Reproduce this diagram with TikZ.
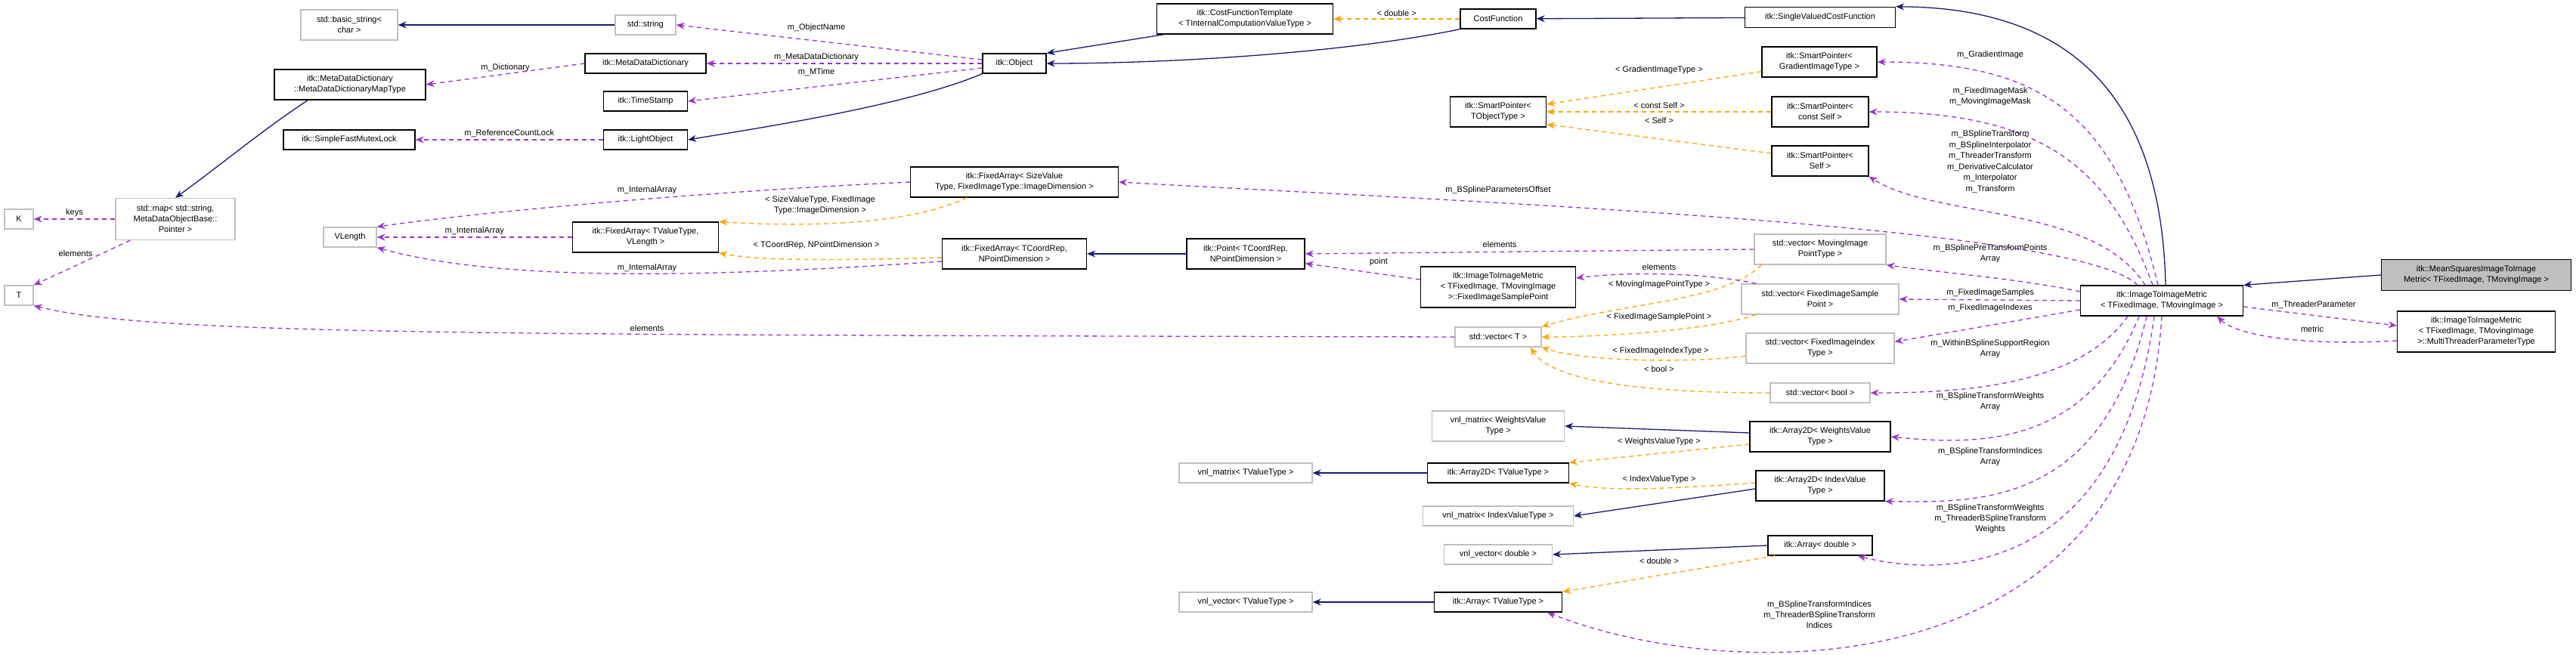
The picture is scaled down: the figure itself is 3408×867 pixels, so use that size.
\documentclass[tikz,border=0pt]{standalone}
\usepackage{fontspec}
\setmainfont{Liberation Sans}
\usetikzlibrary{arrows.meta}
\definecolor{navy}{HTML}{191970}
\definecolor{orng}{HTML}{FFA500}
\definecolor{purp}{HTML}{9A32CD}
\definecolor{gbord}{HTML}{BFBFBF}
\begin{document}
\begin{tikzpicture}[x=1pt,y=-1pt,
  font=\fontsize{11}{14}\selectfont,
  box/.style={draw, line width=1.3pt, align=center, inner sep=2pt, fill=white},
  cls/.style={box, draw=black},
  ext/.style={box, draw=gbord},
  inh/.style={draw=navy, line width=1.3pt, -{Stealth[length=11pt,width=9pt]}},
  tpl/.style={draw=orng, line width=1.3pt, dash pattern=on 6pt off 5pt, -{Stealth[length=11pt,width=9pt]}},
  use/.style={draw=purp, line width=1.3pt, dash pattern=on 6pt off 5pt, -{Stealth[length=11pt,width=9pt]}},
  lbl/.style={align=center, inner sep=0pt, font=\fontsize{11}{14}\selectfont}]
\useasboundingbox (0,0) rectangle (3408,867);
% nodes
\node[ext, minimum width=128, minimum height=40] (bstr) at (462,33) {std::basic\_string<\\char >};
\node[ext, minimum width=80, minimum height=26] (str) at (854,33) {std::string};
\node[cls, minimum width=200, minimum height=40] (mapt) at (463,112) {itk::MetaDataDictionary\\::MetaDataDictionaryMapType};
\node[cls, minimum width=160, minimum height=26] (mdd) at (854,84) {itk::MetaDataDictionary};
\node[cls, minimum width=111, minimum height=26] (ts) at (854,134) {itk::TimeStamp};
\node[cls, minimum width=174, minimum height=26] (mutex) at (462,185) {itk::SimpleFastMutexLock};
\node[cls, minimum width=111, minimum height=26] (lo) at (854,185) {itk::LightObject};
\node[ext, minimum width=38, minimum height=26] (K) at (25,290) {K};
\node[ext, minimum width=158, minimum height=55] (map) at (232,290) {std::map< std::string,\\MetaDataObjectBase::\\Pointer >};
\node[ext, minimum width=38, minimum height=26] (T) at (25,391) {T};
\node[ext, minimum width=70, minimum height=26] (vl) at (463,314) {VLength};
\node[cls, minimum width=193, minimum height=40] (fav) at (854,314) {itk::FixedArray< TValueType,\\VLength >};
\node[cls, minimum width=84, minimum height=26] (obj) at (1342,84) {itk::Object};
\node[cls, minimum width=233, minimum height=40] (cft) at (1647,25) {itk::CostFunctionTemplate\\< TInternalComputationValueType >};
\node[cls, minimum width=100, minimum height=26] (cf) at (1982,25) {CostFunction};
\node[cls, minimum width=127, minimum height=40] (spt) at (1982,148) {itk::SmartPointer<\\TObjectType >};
\node[cls, minimum width=275, minimum height=40] (fas) at (1342,241) {itk::FixedArray< SizeValue\\Type, FixedImageType::ImageDimension >};
\node[cls, minimum width=191, minimum height=40] (fac) at (1342,336) {itk::FixedArray< TCoordRep,\\NPointDimension >};
\node[cls, minimum width=156, minimum height=40] (pt) at (1648,336) {itk::Point< TCoordRep,\\NPointDimension >};
\node[cls, minimum width=205, minimum height=54] (fisp) at (1982,380) {itk::ImageToImageMetric\\< TFixedImage, TMovingImage\\ >::FixedImageSamplePoint};
\node[ext, minimum width=114, minimum height=26] (vt) at (1982,446) {std::vector< T >};
\node[cls, minimum width=199, minimum height=27] (svcf) at (2408,23) {itk::SingleValuedCostFunction};
\node[cls, minimum width=152, minimum height=40] (spg) at (2407,82) {itk::SmartPointer<\\GradientImageType >};
\node[cls, minimum width=128, minimum height=40] (spc) at (2408,148) {itk::SmartPointer<\\const Self >};
\node[cls, minimum width=128, minimum height=40] (sps) at (2408,213) {itk::SmartPointer<\\Self >};
\node[ext, minimum width=174, minimum height=40] (vmp) at (2408,330) {std::vector< MovingImage\\PointType >};
\node[ext, minimum width=208, minimum height=40] (vfs) at (2408,396) {std::vector< FixedImageSample\\Point >};
\node[ext, minimum width=196, minimum height=40] (vfi) at (2408,461) {std::vector< FixedImageIndex\\Type >};
\node[ext, minimum width=132, minimum height=26] (vb) at (2408,520) {std::vector< bool >};
\node[cls, minimum width=215, minimum height=40] (itm) at (2860,398) {itk::ImageToImageMetric\\< TFixedImage, TMovingImage >};
\node[cls, minimum width=251, minimum height=41, fill=gbord] (ms) at (3276,364) {itk::MeanSquaresImageToImage\\Metric< TFixedImage, TMovingImage >};
\node[cls, minimum width=209, minimum height=54] (mtp) at (3276,439) {itk::ImageToImageMetric\\< TFixedImage, TMovingImage\\ >::MultiThreaderParameterType};
\node[ext, minimum width=175, minimum height=40] (vmw) at (1982,564) {vnl\_matrix< WeightsValue\\Type >};
\node[cls, minimum width=186, minimum height=40] (a2w) at (2408,578) {itk::Array2D< WeightsValue\\Type >};
\node[cls, minimum width=187, minimum height=26] (a2t) at (1982,626) {itk::Array2D< TValueType >};
\node[cls, minimum width=170, minimum height=40] (a2i) at (2408,643) {itk::Array2D< IndexValue\\Type >};
\node[ext, minimum width=199, minimum height=26] (vmi) at (1982,683) {vnl\_matrix< IndexValueType >};
\node[cls, minimum width=138, minimum height=26] (ad) at (2408,722) {itk::Array< double >};
\node[ext, minimum width=143, minimum height=26] (vvd) at (1982,734) {vnl\_vector< double >};
\node[cls, minimum width=169, minimum height=26] (at) at (1982,797) {itk::Array< TValueType >};
\node[ext, minimum width=176, minimum height=26] (vmt) at (1648,626) {vnl\_matrix< TValueType >};
\node[ext, minimum width=176, minimum height=26] (vvt) at (1648,797) {vnl\_vector< TValueType >};
% inheritance
\draw[inh] (str) -- (bstr);
\draw[inh] (obj.south west) .. controls (1200,140) and (1000,170) .. (lo.east);
\draw[inh] (mapt.south west) ++(45,0) .. controls (350,170) and (290,220) .. (map.north);
\draw[inh] (pt) -- (fac);
\draw[inh] (cft.south west) ++(10,0) -- (obj.north east);
\draw[inh] (cf.south west) .. controls (1780,70) and (1550,84) .. (obj.east);
\draw[inh] (svcf) -- (cf);
\draw[inh] (itm.north) ++(5,0) .. controls (2860,150) and (2760,10) .. (svcf.north east);
\draw[inh] (ms.west) -- (itm.north east);
\draw[inh] (a2t) -- (vmt);
\draw[inh] (a2w.west) ++(0,-5) -- (vmw.east);
\draw[inh] (a2i.west) ++(0,4) -- (vmi.east);
\draw[inh] (ad.west) -- (vvd.east);
\draw[inh] (at) -- (vvt);
% template
\draw[tpl] (cf) -- node[lbl, above=3pt] {< double >} (cft);
\draw[tpl] (fas.south west) ++(75,0) .. controls (1200,300) and (1050,300) .. (fav.north east);
\node[lbl] (lsz) at (1085,272) {< SizeValueType, FixedImage\\Type::ImageDimension >};
\draw[tpl] (fac.west) ++(0,5) .. controls (1100,345) and (1000,345) .. (fav.south east);
\node[lbl] (ltc) at (1080,325) {< TCoordRep, NPointDimension >};
\draw[tpl] ([yshift=8pt]spg.south west) -- ([yshift=10pt]spt.east);
\draw[tpl] (spc.west) -- (spt.east);
\draw[tpl] ([yshift=10pt]sps.west) -- ([yshift=4pt]spt.south east);
\node[lbl] at (2195,93) {< GradientImageType >};
\node[lbl] at (2195,140) {< const Self >};
\node[lbl] at (2195,160) {< Self >};
\draw[tpl] ([xshift=10pt]vmp.south west) .. controls (2280,400) and (2150,400) .. (vt.north east);
\draw[tpl] ([xshift=20pt]vfs.south west) .. controls (2250,440) and (2100,446) .. (vt.east);
\draw[tpl] ([yshift=-10pt]vfi.west) .. controls (2250,480) and (2100,480) .. (vt.south east);
\draw[tpl] (vb.west) .. controls (2150,520) and (2050,500) .. ([xshift=-15pt]vt.south east);
\node[lbl] at (2195,377) {< MovingImagePointType >};
\node[lbl] at (2195,420) {< FixedImageSamplePoint >};
\node[lbl] at (2197,465) {< FixedImageIndexType >};
\node[lbl] at (2195,489) {< bool >};
\draw[tpl] ([yshift=-10pt]a2w.west) -- (a2t.north east);
\draw[tpl] ([yshift=4pt]a2i.west) .. controls (2200,648) and (2120,650) .. (a2t.south east);
\draw[tpl] ([xshift=10pt]ad.south west) -- (at.north east);
\node[lbl] at (2195,585) {< WeightsValueType >};
\node[lbl] at (2195,635) {< IndexValueType >};
\node[lbl] at (2195,743) {< double >};
% usage
\draw[use] ([yshift=5pt]obj.west) -- (str.east);
\draw[use] (obj.west) -- (mdd.east);
\draw[use] ([yshift=-6pt]obj.west) -- (ts.east);
\node[lbl] at (1080,37) {m\_ObjectName};
\node[lbl] at (1080,76) {m\_MetaDataDictionary};
\node[lbl] at (1080,96) {m\_MTime};
\draw[use] (mdd.west) -- node[lbl, above=3pt] {m\_Dictionary} (mapt.east);
\draw[use] (lo) -- node[lbl, above=3pt] {m\_ReferenceCountLock} (mutex);
\draw[use] (map) -- node[lbl, above=3pt] {keys} (K);
\draw[use] ([xshift=20pt]map.south west) -- (T.north east);
\node[lbl] at (100,336) {elements};
\draw[use] (fas.west) .. controls (900,255) and (600,285) .. (vl.north east);
\node[lbl] at (856,252) {m\_InternalArray};
\draw[use] (fav) -- node[lbl, above=3pt] {m\_InternalArray} (vl);
\draw[use] ([yshift=-10pt]fac.west) .. controls (900,370) and (650,370) .. (vl.south east);
\node[lbl] at (856,355) {m\_InternalArray};
\draw[use] (vt.west) .. controls (600,443) and (200,443) .. (T.south east);
\node[lbl] at (856,435) {elements};
\draw[use] (vmp.west) -- (pt.east);
\node[lbl] at (1984,324) {elements};
\draw[use] ([yshift=10pt]fisp.west) -- ([yshift=8pt]pt.south east);
\node[lbl] at (1824,347) {point};
\draw[use] ([xshift=20pt]vfs.north west) .. controls (2250,360) and (2150,360) .. ([yshift=12pt]fisp.east);
\node[lbl] at (2195,354) {elements};
% from ImageToImageMetric
\draw[use] ([xshift=-5pt]itm.north) .. controls (2800,150) and (2700,82) .. (spg.east);
\node[lbl] at (2633,73) {m\_GradientImage};
\draw[use] ([xshift=-12pt]itm.north) .. controls (2790,220) and (2700,148) .. (spc.east);
\node[lbl] at (2633,128) {m\_FixedImageMask\\m\_MovingImageMask};
\draw[use] ([xshift=-22pt]itm.north) .. controls (2770,270) and (2560,290) .. (sps.south east);
\node[lbl, font=\fontsize{11}{14.5}\selectfont] at (2633,214) {m\_BSplineTransform\\m\_BSplineInterpolator\\m\_ThreaderTransform\\m\_DerivativeCalculator\\m\_Interpolator\\m\_Transform};
\draw[use] ([xshift=-32pt]itm.north) .. controls (2750,300) and (2000,270) .. (fas.east);
\node[lbl] at (1982,252) {m\_BSplineParametersOffset};
\draw[use] ([yshift=12pt]itm.west) .. controls (2680,370) and (2560,360) .. (vmp.south east);
\node[lbl] at (2633,336) {m\_BSplinePreTransformPoints\\Array};
\draw[use] (itm.west) -- (vfs.east);
\node[lbl] at (2633,388) {m\_FixedImageSamples};
\draw[use] ([yshift=-12pt]itm.west) -- ([yshift=-12pt]vfi.north east);
\node[lbl] at (2633,408) {m\_FixedImageIndexes};
\draw[use] ([xshift=-45pt]itm.south) .. controls (2750,510) and (2600,520) .. (vb.east);
\node[lbl] at (2633,462) {m\_WithinBSplineSupportRegion\\Array};
\draw[use] ([xshift=-30pt]itm.south) .. controls (2760,590) and (2620,590) .. (a2w.east);
\node[lbl] at (2633,532) {m\_BSplineTransformWeights\\Array};
\draw[use] ([xshift=-20pt]itm.south) .. controls (2780,670) and (2620,665) .. (a2i.south east);
\node[lbl] at (2633,605) {m\_BSplineTransformIndices\\Array};
\draw[use] ([xshift=-10pt]itm.south) .. controls (2800,780) and (2550,760) .. ([xshift=-20pt]ad.south east);
\node[lbl] at (2633,687) {m\_BSplineTransformWeights\\m\_ThreaderBSplineTransform\\Weights};
\draw[use] (itm.south) .. controls (2830,910) and (2300,910) .. ([xshift=-20pt]at.south east);
\node[lbl] at (2407,814) {m\_BSplineTransformIndices\\m\_ThreaderBSplineTransform\\Indices};
\draw[use] ([yshift=-8pt]itm.east) -- ([yshift=8pt]mtp.west);
\node[lbl] at (3061,404) {m\_ThreaderParameter};
\draw[use] ([yshift=-12pt]mtp.west) .. controls (3050,458) and (2960,445) .. ([xshift=-35pt]itm.south east);
\node[lbl] at (3059,436) {metric};
\end{tikzpicture}
\end{document}
